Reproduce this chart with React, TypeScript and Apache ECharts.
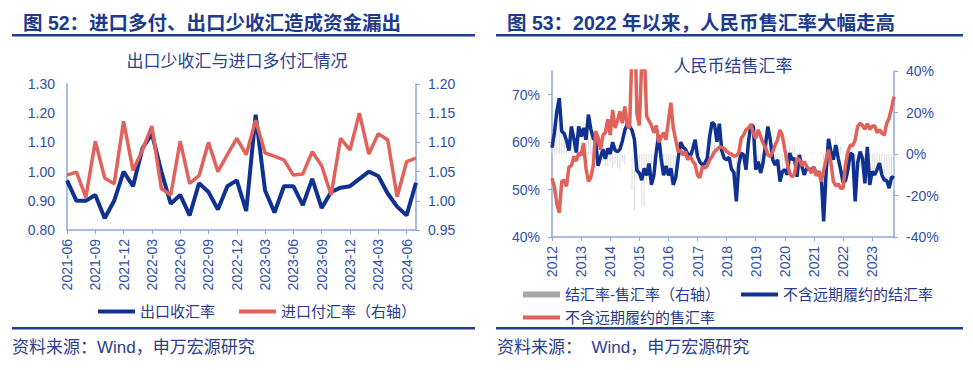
import { useEffect, useRef } from 'react';
import * as echarts from 'echarts';

// ---------- Figure 52 ----------
const leftMonths: string[] = [
  '2021-06', '2021-07', '2021-08', '2021-09', '2021-10', '2021-11', '2021-12',
  '2022-01', '2022-02', '2022-03', '2022-04', '2022-05', '2022-06', '2022-07', '2022-08', '2022-09', '2022-10', '2022-11', '2022-12',
  '2023-01', '2023-02', '2023-03', '2023-04', '2023-05', '2023-06', '2023-07', '2023-08', '2023-09', '2023-10', '2023-11', '2023-12',
  '2024-01', '2024-02', '2024-03', '2024-04', '2024-05', '2024-06', '2024-07',
];
// 出口收汇率 (left axis)
const exportRate: number[] = [
  0.97, 0.90, 0.90, 0.92, 0.84, 0.90, 1.00, 0.95, 1.08, 1.13, 1.00, 0.89, 0.92, 0.85, 0.96, 0.93,
  0.87, 0.95, 0.97, 0.865, 1.195, 0.935, 0.86, 0.95, 0.95, 0.885, 0.975, 0.875, 0.93, 0.945, 0.95,
  0.975, 1.00, 0.985, 0.925, 0.88, 0.85, 0.962,
];
// 进口付汇率 (right axis)
const importRate: number[] = [
  1.044, 1.049, 1.006, 1.102, 1.039, 1.029, 1.136, 1.052, 1.087, 1.128, 1.021, 1.010, 1.102, 1.030,
  1.043, 1.100, 1.050, 1.079, 1.107, 1.079, 1.138, 1.082, 1.076, 1.070, 1.044, 1.046, 1.084, 1.060,
  1.010, 1.107, 1.087, 1.150, 1.080, 1.115, 1.104, 1.007, 1.067, 1.073,
];

// ---------- Figure 53 ----------
const rightMonths: string[] = [];
for (let y = 2012; y <= 2023; y++) {
  for (let m = 1; m <= 12; m++) {
    if (y === 2023 && m > 10) break;
    rightMonths.push(`${y}-${m < 10 ? '0' + m : m}`);
  }
}
// 不含远期履约的结汇率 (%)
const settleRate: number[] = [
  58.8, 62.0, 66.5, 69.3, 62.3, 61.8, 60.3, 58.2, 63.3, 60.8, 57.8, 63.3,
  61.2, 63.0, 60.5, 65.8, 62.8, 60.8, 60.2, 55.0, 56.8, 58.5, 56.5, 58.7,
  57.5, 60.0, 58.3, 58.0, 58.5, 60.2, 62.5, 63.8, 63.3, 62.5, 60.5, 54.0,
  53.5, 52.0, 54.5, 53.0, 55.5, 51.0, 53.0, 58.0, 61.5, 56.5, 53.0, 55.0,
  53.0, 54.5, 51.0, 52.5, 56.5, 60.0, 59.0, 58.5, 57.5, 57.0, 58.5, 60.5,
  57.0, 55.8, 55.2, 55.6, 56.6, 61.2, 64.2, 63.7, 60.1, 63.9, 58.2, 56.6,
  56.3, 56.8, 54.3, 53.6, 47.5, 55.2, 57.7, 57.3, 54.2, 60.1, 63.7, 63.3,
  54.2, 55.9, 53.5, 55.6, 59.4, 63.3, 60.5, 56.3, 55.2, 56.3, 51.7, 53.8,
  54.2, 53.1, 57.7, 56.3, 56.6, 52.7, 57.3, 54.9, 53.1, 54.5, 54.3, 54.2,
  54.7, 53.1, 53.8, 52.7, 43.3, 53.5, 60.7, 58.0, 56.3, 59.4, 56.6, 54.2,
  51.5, 51.9, 54.2, 57.7, 57.3, 47.5, 55.6, 58.0, 56.6, 51.3, 59.0, 51.0,
  53.8, 53.1, 54.2, 55.6, 53.1, 52.0, 51.9, 50.3, 52.7, 52.4,
];
// 不含远期履约的售汇率 (%)
const saleRate: number[] = [
  52.4, 50.6, 47.0, 45.1, 51.7, 52.0, 50.7, 54.8, 55.0, 57.0, 56.0, 57.7,
  57.2, 59.8, 54.5, 51.7, 52.5, 55.0, 62.3, 61.0, 58.4, 61.5, 62.0, 64.8,
  61.5, 66.8, 63.0, 64.5, 66.5, 64.0, 67.5, 63.5, 63.0, 80.0, 88.0, 66.0,
  63.5, 77.0, 80.0, 65.5, 64.5, 63.5, 62.0, 63.5, 60.0, 61.0, 62.0, 60.5,
  64.5, 68.3, 63.0, 60.5, 58.0, 58.3, 57.3, 58.0, 56.3, 57.0, 56.0, 55.3,
  53.0, 52.5, 54.9, 54.5, 55.0, 56.3, 57.0, 58.0, 58.5, 58.9, 58.9, 58.7,
  58.0, 57.7, 57.5, 57.0, 57.2, 57.7, 60.8, 61.5, 62.6, 63.0, 63.7, 61.9,
  60.8, 62.6, 61.2, 59.8, 58.9, 57.3, 57.0, 58.0, 59.4, 60.5, 62.6, 61.3,
  58.4, 55.6, 53.5, 52.7, 53.3, 56.6, 56.3, 55.0, 55.9, 54.9, 54.3, 53.5,
  54.7, 52.9, 53.8, 51.7, 54.0, 56.3, 58.4, 55.6, 51.7, 50.8, 51.2, 50.3,
  50.3, 55.2, 58.0, 59.4, 59.2, 60.5, 63.3, 64.0, 63.5, 62.7, 63.9, 62.7,
  63.3, 63.5, 62.0, 62.6, 61.9, 61.5, 64.0, 65.1, 67.2, 69.6,
];
// 结汇率-售汇率 (right axis), by definition the gap between the two rates
const gapRate: number[] = settleRate.map((v, i) => Math.round((v - saleRate[i]) * 10) / 10);

const FONT = "'Liberation Sans', 'Noto Sans CJK SC', sans-serif";
const NAVY = '#1c3a8e';
const AXIS_TEXT = '#2f4fa6';
const AXIS_LINE = '#8ea6dc';
const BLUE = '#0f3191';
const RED = '#e0625a';
const LEGEND_TEXT = '#26398c';

export default function App() {
  const ref = useRef<HTMLDivElement>(null);
  useEffect(() => {
    if (!ref.current) return;
    const chart = echarts.init(ref.current, null, { renderer: 'svg' });
    const axisLabel = { color: AXIS_TEXT, fontSize: 14, fontFamily: FONT };
    const axisLine = { show: true, onZero: false, lineStyle: { color: AXIS_LINE, width: 1.5 } };
    const legendText = { color: LEGEND_TEXT, fontSize: 15, fontFamily: FONT };
    chart.setOption({
      animation: false,
      backgroundColor: '#ffffff',
      textStyle: { fontFamily: FONT },
      graphic: [
        { type: 'text', x: 23, y: 23, style: { text: '图 52：进口多付、出口少收汇造成资金漏出', fill: NAVY, fontSize: 19.5, fontWeight: 'bold', fontFamily: FONT, align: 'left', verticalAlign: 'middle' } },
        { type: 'text', x: 507, y: 23, style: { text: '图 53：2022 年以来，人民币售汇率大幅走高', fill: NAVY, fontSize: 19.5, fontWeight: 'bold', fontFamily: FONT, align: 'left', verticalAlign: 'middle' } },
        { type: 'rect', shape: { x: 12, y: 34, width: 463, height: 2.5 }, style: { fill: '#1d3f96' } },
        { type: 'rect', shape: { x: 496, y: 34, width: 467, height: 2.5 }, style: { fill: '#1d3f96' } },
        { type: 'rect', shape: { x: 12, y: 327, width: 463, height: 2.5 }, style: { fill: '#1d3f96' } },
        { type: 'rect', shape: { x: 496, y: 327, width: 467, height: 2.5 }, style: { fill: '#1d3f96' } },
        { type: 'text', x: 237, y: 61, style: { text: '出口少收汇与进口多付汇情况', fill: '#2b3f93', fontSize: 17, fontFamily: FONT, align: 'center', verticalAlign: 'middle' } },
        { type: 'text', x: 733, y: 66, style: { text: '人民币结售汇率', fill: '#2b3f93', fontSize: 17, fontFamily: FONT, align: 'center', verticalAlign: 'middle' } },
        { type: 'text', x: 12, y: 347, style: { text: '资料来源：Wind，申万宏源研究', fill: '#2c3e8c', fontSize: 17, fontFamily: FONT, align: 'left', verticalAlign: 'middle' } },
        { type: 'text', x: 497, y: 347, style: { text: '资料来源：  Wind，申万宏源研究', fill: '#2c3e8c', fontSize: 17, fontFamily: FONT, align: 'left', verticalAlign: 'middle' } },
      ],
      grid: [
        { left: 67, top: 84, width: 349, height: 146 },
        { left: 552, top: 71, width: 342, height: 166 },
      ],
      xAxis: [
        {
          gridIndex: 0, type: 'category', data: leftMonths, boundaryGap: false,
          axisLine,
          axisTick: { show: true, interval: 2, length: 4, lineStyle: { color: AXIS_LINE } },
          axisLabel: { ...axisLabel, interval: 2, rotate: 90, margin: 9 },
          splitLine: { show: false },
        },
        {
          gridIndex: 1, type: 'category', data: rightMonths, boundaryGap: false,
          axisLine,
          axisTick: { show: true, interval: (i: number) => i % 12 === 0, length: 4, lineStyle: { color: AXIS_LINE } },
          axisLabel: { ...axisLabel, interval: (i: number) => i % 12 === 0, rotate: 90, margin: 9, formatter: (v: string) => v.slice(0, 4) },
          splitLine: { show: false },
        },
      ],
      yAxis: [
        {
          gridIndex: 0, type: 'value', min: 0.8, max: 1.3, interval: 0.1, position: 'left',
          axisLine, axisTick: { show: false }, splitLine: { show: false },
          axisLabel: { ...axisLabel, margin: 12, formatter: (v: number) => v.toFixed(2) },
        },
        {
          gridIndex: 0, type: 'value', min: 0.95, max: 1.2, interval: 0.05, position: 'right',
          axisLine, axisTick: { show: true, length: 4, lineStyle: { color: AXIS_LINE } }, splitLine: { show: false },
          axisLabel: { ...axisLabel, margin: 12, formatter: (v: number) => v.toFixed(2) },
        },
        {
          gridIndex: 1, type: 'value', min: 40, max: 75, interval: 10, position: 'left',
          axisLine, axisTick: { show: true, length: 4, lineStyle: { color: AXIS_LINE } }, splitLine: { show: false },
          axisLabel: { ...axisLabel, margin: 12, showMaxLabel: false, formatter: '{value}%' },
        },
        {
          gridIndex: 1, type: 'value', min: -40, max: 40, interval: 20, position: 'right',
          axisLine, axisTick: { show: true, length: 4, lineStyle: { color: AXIS_LINE } }, splitLine: { show: false },
          axisLabel: { ...axisLabel, margin: 12, formatter: '{value}%' },
        },
      ],
      legend: [
        {
          data: ['出口收汇率', '进口付汇率（右轴）'],
          left: 93, top: 299, icon: 'rect', itemWidth: 37, itemHeight: 4, itemGap: 24,
          textStyle: legendText,
        },
        {
          data: [{ name: '结汇率-售汇率（右轴）', itemStyle: { color: '#a6a6a6' } }],
          left: 518, top: 282, icon: 'rect', itemWidth: 37, itemHeight: 6,
          textStyle: legendText,
        },
        {
          data: ['不含远期履约的结汇率'],
          left: 736, top: 282, icon: 'rect', itemWidth: 37, itemHeight: 4,
          textStyle: legendText,
        },
        {
          data: ['不含远期履约的售汇率'],
          left: 518, top: 305, icon: 'rect', itemWidth: 37, itemHeight: 4,
          textStyle: legendText,
        },
      ],
      series: [
        {
          name: '出口收汇率', type: 'line', xAxisIndex: 0, yAxisIndex: 0, data: exportRate,
          symbol: 'none', color: BLUE, lineStyle: { color: BLUE, width: 4 },
        },
        {
          name: '进口付汇率（右轴）', type: 'line', xAxisIndex: 0, yAxisIndex: 1, data: importRate,
          symbol: 'none', color: RED, lineStyle: { color: RED, width: 3.5 },
        },
        {
          name: '结汇率-售汇率（右轴）', type: 'bar', xAxisIndex: 1, yAxisIndex: 3, data: gapRate,
          barWidth: 1, color: '#dcdcdc', itemStyle: { color: '#dcdcdc' },
        },
        {
          name: '不含远期履约的结汇率', type: 'line', xAxisIndex: 1, yAxisIndex: 2, data: settleRate,
          symbol: 'none', color: BLUE, lineStyle: { color: BLUE, width: 3.5 },
        },
        {
          name: '不含远期履约的售汇率', type: 'line', xAxisIndex: 1, yAxisIndex: 2, data: saleRate,
          symbol: 'none', color: RED, lineStyle: { color: RED, width: 3.5 }, clip: true,
        },
      ],
    });
    return () => chart.dispose();
  }, []);
  return (
    <div
      ref={ref}
      style={{ position: 'fixed', left: 0, top: 0, width: 973, height: 370, background: '#ffffff' }}
    />
  );
}
